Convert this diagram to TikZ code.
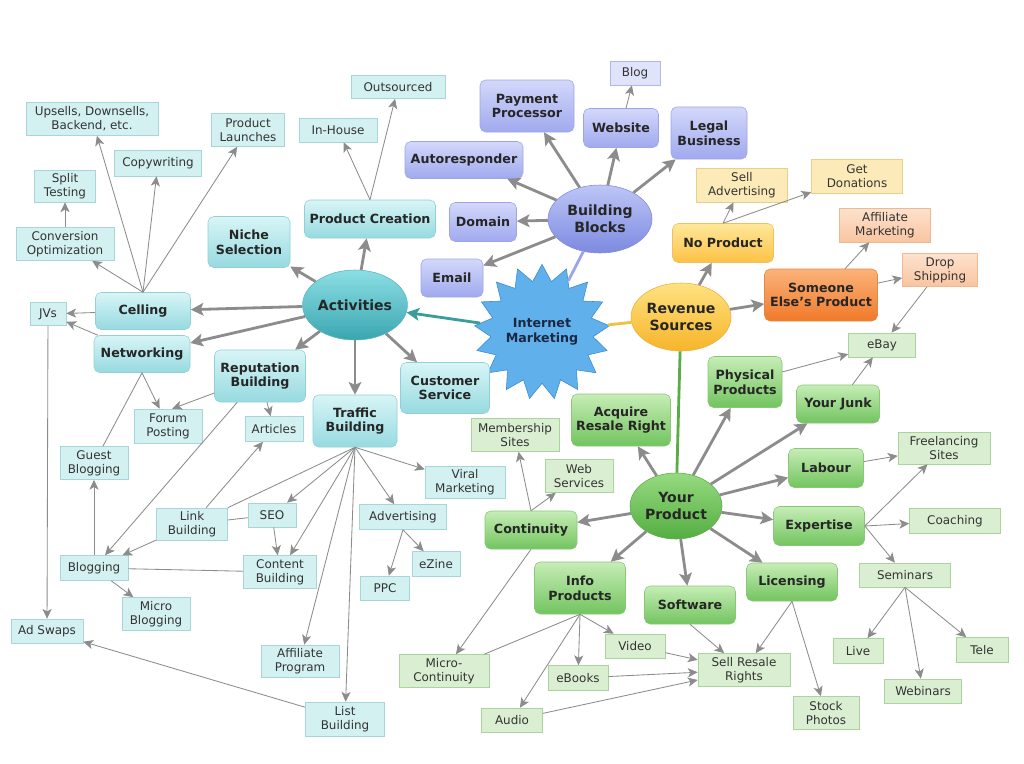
\documentclass[tikz,border=0pt]{standalone}
\usepackage{fontspec}
\setmainfont{DejaVu Sans}
\usetikzlibrary{arrows,arrows.meta,shapes.geometric}
\definecolor{linegray}{HTML}{8C8C8C}
\definecolor{tealtop}{HTML}{D8F5F6}
\definecolor{tealbot}{HTML}{96DAE0}
\definecolor{tealline}{HTML}{92D0D6}
\definecolor{tealleaf}{HTML}{D4F1F1}
\definecolor{tealleafline}{HTML}{A6D6D9}
\definecolor{bluetop}{HTML}{D3D8FA}
\definecolor{bluebot}{HTML}{A0A9EE}
\definecolor{blueline}{HTML}{9DA6E4}
\definecolor{greentop}{HTML}{C6EDB6}
\definecolor{greenbot}{HTML}{72C45F}
\definecolor{greenline}{HTML}{88C876}
\definecolor{greenleaf}{HTML}{DAEFD1}
\definecolor{greenleafline}{HTML}{A9D49B}
\tikzset{
    mainbox/.style = {draw, rounded corners=4pt, align=center, inner sep=1pt,
                 font=\fontsize{9}{10.5}\selectfont\bfseries, text=black!85},
    leaf/.style = {draw, align=center, inner sep=1pt,
                 font=\fontsize{8.5}{10}\selectfont, text=black!80},
    hub/.style = {ellipse, draw, align=center, inner sep=0pt,
                 font=\fontsize{10}{12}\selectfont\bfseries, text=black!85},
    tealmain/.style = {mainbox, draw=tealline, top color=tealtop, bottom color=tealbot},
    tealbox/.style = {leaf, draw=tealleafline, fill=tealleaf},
    bluemain/.style = {mainbox, draw=blueline, top color=bluetop, bottom color=bluebot},
    bluebox/.style = {leaf, draw=blueline!80, fill=bluetop!70},
    yellowmain/.style = {mainbox, draw={rgb,255:red,240;green,192;blue,96}, top color={rgb,255:red,255;green,231;blue,154}, bottom color={rgb,255:red,252;green,194;blue,69}},
    yellowbox/.style = {leaf, draw={rgb,255:red,232;green,207;blue,138}, fill={rgb,255:red,252;green,235;blue,184}},
    orangemain/.style = {mainbox, draw={rgb,255:red,224;green,138;blue,74}, top color={rgb,255:red,251;green,178;blue,122}, bottom color={rgb,255:red,240;green,122;blue,42}},
    orangebox/.style = {leaf, draw={rgb,255:red,238;green,184;blue,147}, top color={rgb,255:red,253;green,226;blue,206}, bottom color={rgb,255:red,249;green,196;blue,160}},
    greenmain/.style = {mainbox, draw=greenline, top color=greentop, bottom color=greenbot},
    greenbox/.style = {leaf, draw=greenleafline, fill=greenleaf},
    thick link/.style = {->, >={Stealth[length=9pt,width=9pt,inset=2pt]}, line width=2pt, draw=linegray},
    thin link/.style = {->, >={Stealth[length=7pt,width=6.5pt,inset=1.8pt]}, line width=0.6pt, draw=linegray},
    plain link/.style = {line width=0.6pt, draw=linegray},
}

\begin{document}
\begin{tikzpicture}[x=0.25mm,y=-0.25mm]
\useasboundingbox[fill=white] (0,0) rectangle (1024,763);

% hubs
\node (im) [star, star points=17, star point ratio=1.32, minimum size=32mm, inner sep=0pt,
   draw={rgb,255:red,58;green,138;blue,208}, fill={rgb,255:red,96;green,176;blue,236}, align=center,
   font=\fontsize{9}{10.5}\selectfont\bfseries, text={rgb,255:red,28;green,40;blue,66}] at (542,332) {Internet\\Marketing};
\node (act) [hub, minimum width=26mm, minimum height=17.5mm, draw={rgb,255:red,88;green,182;blue,190},
   top color={rgb,255:red,140;green,222;blue,228}, bottom color={rgb,255:red,58;green,166;blue,176}] at (355,305) {Activities};
\node (bb) [hub, minimum width=26mm, minimum height=17mm, draw={rgb,255:red,128;green,140;blue,222},
   top color={rgb,255:red,190;green,198;blue,246}, bottom color={rgb,255:red,124;green,138;blue,224}] at (600,219) {Building\\Blocks};
\node (rs) [hub, minimum width=25mm, minimum height=17mm, draw={rgb,255:red,236;green,176;blue,60},
   top color={rgb,255:red,255;green,226;blue,128}, bottom color={rgb,255:red,246;green,180;blue,42}] at (681,317) {Revenue\\Sources};
\node (yp) [hub, minimum width=23mm, minimum height=16.5mm, draw={rgb,255:red,96;green,170;blue,80},
   top color={rgb,255:red,150;green,218;blue,128}, bottom color={rgb,255:red,84;green,174;blue,64}] at (676,506) {Your\\Product};

% activities
\node (cel) [tealmain, minimum width=23.75mm, minimum height=9.25mm] at (143,311) {Celling};
\node (net) [tealmain, minimum width=24mm, minimum height=9.25mm] at (142,354) {Networking};
\node (niche) [tealmain, minimum width=20.5mm, minimum height=12.75mm] at (249,242) {Niche\\Selection};
\node (pcr) [tealmain, minimum width=32.75mm, minimum height=9.5mm] at (370,219) {Product Creation};
\node (rep) [tealmain, minimum width=22.75mm, minimum height=13mm] at (260,376) {Reputation\\Building};
\node (tra) [tealmain, minimum width=21mm, minimum height=13mm] at (355,421) {Traffic\\Building};
\node (cus) [tealmain, minimum width=22.25mm, minimum height=12.75mm] at (445,388) {Customer\\Service};

\node (ups) [tealbox, minimum width=33mm, minimum height=8.25mm] at (92,119) {Upsells, Downsells,\\Backend, etc.};
\node (lau) [tealbox, minimum width=18.25mm, minimum height=8.25mm] at (248,130) {Product\\Launches};
\node (copy) [tealbox, minimum width=21.75mm, minimum height=6.5mm] at (158,163) {Copywriting};
\node (split) [tealbox, minimum width=15.25mm, minimum height=8mm] at (65,186) {Split\\Testing};
\node (conv) [tealbox, minimum width=24.5mm, minimum height=8.25mm] at (65,244) {Conversion\\Optimization};
\node (jvs) [tealbox, minimum width=9mm, minimum height=5.75mm] at (48,314) {JVs};
\node (inh) [tealbox, minimum width=19.5mm, minimum height=6mm] at (338,130) {In-House};
\node (outs) [tealbox, minimum width=23.5mm, minimum height=5.75mm] at (398,87) {Outsourced};
\node (forum) [tealbox, minimum width=17mm, minimum height=8.5mm] at (168,426) {Forum\\Posting};
\node (art) [tealbox, minimum width=14.5mm, minimum height=6.25mm] at (274,429) {Articles};
\node (guest) [tealbox, minimum width=17mm, minimum height=8.25mm] at (94,463) {Guest\\Blogging};
\node (link) [tealbox, minimum width=17.75mm, minimum height=8mm] at (192,524) {Link\\Building};
\node (seo) [tealbox, minimum width=12mm, minimum height=6mm] at (272,515) {SEO};
\node (blog) [tealbox, minimum width=17mm, minimum height=6.25mm] at (94,568) {Blogging};
\node (cont) [tealbox, minimum width=18.25mm, minimum height=8.25mm] at (280,572) {Content\\Building};
\node (mblog) [tealbox, minimum width=17mm, minimum height=8.25mm] at (156,614) {Micro\\Blogging};
\node (ads) [tealbox, minimum width=18mm, minimum height=6mm] at (47,631) {Ad Swaps};
\node (aff) [tealbox, minimum width=19.5mm, minimum height=8mm] at (300,661) {Affiliate\\Program};
\node (list) [tealbox, minimum width=19.75mm, minimum height=8.5mm] at (345,719) {List\\Building};
\node (viral) [tealbox, minimum width=20mm, minimum height=8mm] at (465,482) {Viral\\Marketing};
\node (adv) [tealbox, minimum width=21.75mm, minimum height=6.25mm] at (403,517) {Advertising};
\node (ezine) [tealbox, minimum width=12mm, minimum height=6.25mm] at (436,564) {eZine};
\node (ppc) [tealbox, minimum width=12.25mm, minimum height=6mm] at (385,588) {PPC};

% building blocks
\node (pay) [bluemain, minimum width=23.5mm, minimum height=13mm] at (527,106) {Payment\\Processor};
\node (web) [bluemain, minimum width=18.75mm, minimum height=9.75mm] at (621,128) {Website};
\node (legal) [bluemain, minimum width=19mm, minimum height=13mm] at (709,133) {Legal\\Business};
\node (auto) [bluemain, minimum width=29.5mm, minimum height=9.25mm] at (464,160) {Autoresponder};
\node (dom) [bluemain, minimum width=16.75mm, minimum height=9.75mm] at (483,222) {Domain};
\node (email) [bluemain, minimum width=15.5mm, minimum height=9.5mm] at (452,278) {Email};
\node (blogw) [bluebox, minimum width=12.5mm, minimum height=6mm] at (635,73) {Blog};

% revenue
\node (nop) [yellowmain, minimum width=25.25mm, minimum height=9.75mm] at (723,243) {No Product};
\node (sell) [yellowbox, minimum width=22.75mm, minimum height=8.5mm] at (742,185) {Sell\\Advertising};
\node (don) [yellowbox, minimum width=22.75mm, minimum height=8.5mm] at (857,176) {Get\\Donations};
\node (else) [orangemain, minimum width=28.25mm, minimum height=13mm] at (821,295) {Someone\\Else's Product};
\node (affm) [orangebox, minimum width=22.75mm, minimum height=8.5mm] at (885,225) {Affiliate\\Marketing};
\node (drop) [orangebox, minimum width=18.75mm, minimum height=8.25mm] at (940,270) {Drop\\Shipping};

% your product
\node (phys) [greenmain, minimum width=18.5mm, minimum height=12.75mm] at (745,382) {Physical\\Products};
\node (junk) [greenmain, minimum width=20.75mm, minimum height=9.5mm] at (838,404) {Your Junk};
\node (labour) [greenmain, minimum width=18.75mm, minimum height=9.75mm] at (826,468) {Labour};
\node (expert) [greenmain, minimum width=22.75mm, minimum height=9.75mm] at (819,526) {Expertise};
\node (lic) [greenmain, minimum width=22.75mm, minimum height=9.5mm] at (792,582) {Licensing};
\node (soft) [greenmain, minimum width=22.75mm, minimum height=9.5mm] at (690,605) {Software};
\node (info) [greenmain, minimum width=22.75mm, minimum height=13mm] at (580,588) {Info\\Products};
\node (conti) [greenmain, minimum width=23mm, minimum height=9.5mm] at (531,530) {Continuity};
\node (acq) [greenmain, minimum width=24.75mm, minimum height=13mm] at (621,420) {Acquire\\Resale Right};

\node (ebay) [greenbox, minimum width=16.75mm, minimum height=6mm] at (882,345) {eBay};
\node (free) [greenbox, minimum width=23mm, minimum height=8mm] at (944,448) {Freelancing\\Sites};
\node (coach) [greenbox, minimum width=22.75mm, minimum height=6.25mm] at (955,521) {Coaching};
\node (sem) [greenbox, minimum width=22.75mm, minimum height=6mm] at (905,575) {Seminars};
\node (live) [greenbox, minimum width=12.5mm, minimum height=6.25mm] at (858,651) {Live};
\node (tele) [greenbox, minimum width=13mm, minimum height=6.25mm] at (982,650) {Tele};
\node (webi) [greenbox, minimum width=19.25mm, minimum height=6mm] at (923,691) {Webinars};
\node (stock) [greenbox, minimum width=16.5mm, minimum height=8.25mm] at (826,713) {Stock\\Photos};
\node (srr) [greenbox, minimum width=23mm, minimum height=8.25mm] at (744,670) {Sell Resale\\Rights};
\node (video) [greenbox, minimum width=15mm, minimum height=6mm] at (635,646) {Video};
\node (ebook) [greenbox, minimum width=15mm, minimum height=6.25mm] at (578,678) {eBooks};
\node (audio) [greenbox, minimum width=15.25mm, minimum height=6mm] at (512,720) {Audio};
\node (mcont) [greenbox, minimum width=22.5mm, minimum height=8.25mm] at (444,671) {Micro-\\Continuity};
\node (memb) [greenbox, minimum width=22mm, minimum height=8.25mm] at (515,435) {Membership\\Sites};
\node (websv) [greenbox, minimum width=17mm, minimum height=8.25mm] at (579,476) {Web\\Services};

% hub links
\draw[thick link, draw={rgb,255:red,58;green,156;blue,156}] (im) to (act);
\draw[line width=2pt, draw={rgb,255:red,154;green,166;blue,232}] (im) -- (bb);
\draw[line width=2pt, draw={rgb,255:red,242;green,192;blue,64}] (im) -- (rs);
\draw[line width=2pt, draw={rgb,255:red,90;green,172;blue,72}] (rs) -- (yp);

\draw[thick link] (act) to (niche);
\draw[thick link] (act) to (pcr);
\draw[thick link] (act) to (cel);
\draw[thick link] (act) to (net);
\draw[thick link] (act) to (rep);
\draw[thick link] (act) to (tra);
\draw[thick link] (act) to (cus);

\draw[thick link] (bb) to (pay);
\draw[thick link] (bb) to (web);
\draw[thick link] (bb) to (legal);
\draw[thick link] (bb) to (auto);
\draw[thick link] (bb) to (dom);
\draw[thick link] (bb) to (email);

\draw[thick link] (rs) to (nop);
\draw[thick link] (rs) to (else);

\draw[thick link] (yp) to (acq);
\draw[thick link] (yp) to (phys);
\draw[thick link] (yp) to (junk);
\draw[thick link] (yp) to (labour);
\draw[thick link] (yp) to (expert);
\draw[thick link] (yp) to (lic);
\draw[thick link] (yp) to (soft);
\draw[thick link] (yp) to (info);
\draw[thick link] (yp) to (conti);

% activities leaves
\draw[thin link] (cel.north) to (ups);
\draw[thin link] (cel.north) to (copy);
\draw[thin link] (cel.north) to (lau);
\draw[thin link] (cel.north) to (conv);
\draw[thin link] (conv) to (split);
\draw[thin link] (cel) to (jvs);
\draw[thin link] (net) to (jvs);
\draw[plain link] (net.south) -- (guest);
\draw[thin link] (net.south) to (forum);
\draw[thin link] (rep) to ([xshift=3]forum.north);
\draw[thin link] (rep) to (art);
\draw[thin link] (rep) to (blog);
\draw[thin link] (link) to (art);
\draw[thin link] (link) to (blog);
\draw[plain link] (link) -- (seo);
\draw[plain link] (tra.south) -- (link.north east);
\draw[thin link] (tra.south) to (seo);
\draw[thin link] (tra.south) to (cont);
\draw[thin link] (seo) to (cont);
\draw[plain link] (cont) -- (blog);
\draw[thin link] (blog) to (mblog);
\draw[thin link] (blog) to (guest);
\draw[thin link] (tra.south) to (aff);
\draw[thin link] (tra.south) to (list);
\draw[thin link] (tra.south) to (viral);
\draw[thin link] (tra.south) to (adv);
\draw[thin link] (adv.south) to (ppc);
\draw[thin link] (adv.south) to (ezine);
\draw[thin link] (list) to (ads);
\draw[thin link] (jvs) to (ads);
\draw[thin link] (pcr.north) to (inh);
\draw[thin link] (pcr.north) to (outs);

% building blocks leaves
\draw[thin link] (web) to (blogw);

% revenue leaves
\draw[thin link] (nop.north) to (sell);
\draw[thin link] (nop.north) to (don);
\draw[thin link] (else) to (affm);
\draw[thin link] (else) to (drop);
\draw[thin link] (drop) to (ebay);
\draw[thin link] (phys) to (ebay);
\draw[thin link] (junk) to (ebay);
\draw[thin link] (labour) to (free);
\draw[thin link] (expert.east) to (free);
\draw[thin link] (expert.east) to (coach);
\draw[thin link] (expert.east) to (sem);
\draw[thin link] (sem.south) to (live);
\draw[thin link] (sem.south) to (webi);
\draw[thin link] (sem.south) to (tele);
\draw[thin link] (lic.south) to (srr);
\draw[thin link] (lic.south) to (stock);
\draw[thin link] (soft.south) to (srr);
\draw[thin link] (video) to (srr);
\draw[thin link] (ebook) to (srr);
\draw[thin link] (audio) to (srr);
\draw[thin link] (info.south) to (video);
\draw[thin link] (info.south) to (ebook);
\draw[thin link] (info.south) to (audio);
\draw[plain link] (info.south) -- (mcont);
\draw[thin link] (conti.south) to (mcont);
\draw[thin link] (conti.north) to (memb);
\draw[thin link] (conti.north) to (websv);
\end{tikzpicture}
\end{document}
